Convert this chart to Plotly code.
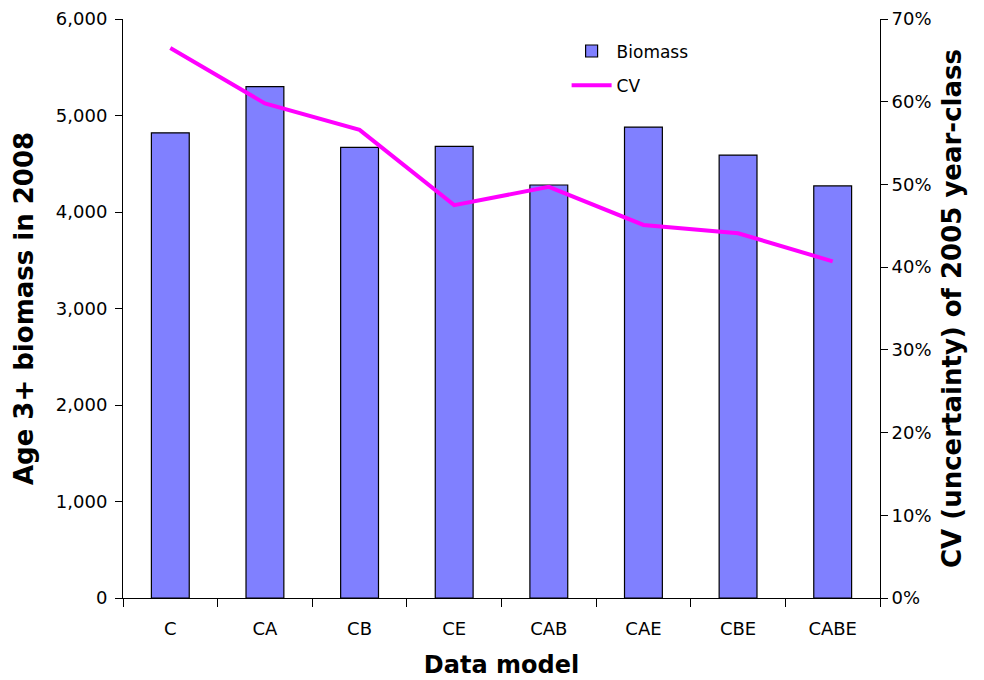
import plotly.graph_objects as go

MODELS = ["C", "CA", "CB", "CE", "CAB", "CAE", "CBE", "CABE"]
BIOMASS = [4820, 5300, 4670, 4680, 4280, 4880, 4590, 4270]
CV = [0.665, 0.598, 0.566, 0.475, 0.497, 0.451, 0.441, 0.407]

FONT = "DejaVu Sans, Verdana, sans-serif"
BAR_COLOR = "#8080FF"
LINE_COLOR = "#FF00FF"

fig = go.Figure()
fig.add_trace(go.Bar(
    x=MODELS, y=BIOMASS, name="Biomass", legendgroup="b",
    marker=dict(color=BAR_COLOR, line=dict(color="black", width=1.2)),
    yaxis="y",
))
fig.add_trace(go.Scatter(
    x=MODELS, y=CV, name="CV", mode="lines", legendgroup="cv",
    line=dict(color=LINE_COLOR, width=4),
    yaxis="y2",
))

# the page body has an 8px margin; size the figure so it fits the window
# and shift the margins so the plot area sits where the reference has it
fig.update_layout(
    width=976, height=672,
    paper_bgcolor="white", plot_bgcolor="white",
    font=dict(family=FONT, color="black", size=18),
    margin=dict(l=115, r=104, t=11, b=82),
    bargap=0.6,
    showlegend=True,
    legend=dict(
        x=0.586, y=0.975, xanchor="left", yanchor="top",
        bgcolor="rgba(0,0,0,0)", font=dict(size=17),
        itemwidth=40, tracegroupgap=9,
    ),
    xaxis=dict(
        type="category", tickson="boundaries",
        ticks="outside", ticklen=8, tickcolor="black",
        showline=True, linecolor="black", linewidth=1,
        showgrid=False, tickfont=dict(size=18), ticklabelstandoff=14,
        automargin=False,
        title=dict(text="<b>Data model</b>", font=dict(size=24), standoff=18),
    ),
    yaxis=dict(
        range=[0, 6000], dtick=1000, tickformat=",d",
        ticks="outside", ticklen=7, tickcolor="black",
        showline=True, linecolor="black", linewidth=1,
        showgrid=False, zeroline=False, tickfont=dict(size=18),
        ticklabelstandoff=4, ticklabeloverflow="allow", automargin=False,
        title=dict(text="<b>Age 3+ biomass in 2008</b>", font=dict(size=26), standoff=14),
    ),
    yaxis2=dict(
        overlaying="y", side="right",
        range=[0, 0.7], dtick=0.1, tickformat=".0%",
        ticks="outside", ticklen=7, tickcolor="black",
        showline=True, linecolor="black", linewidth=1,
        showgrid=False, zeroline=False, tickfont=dict(size=18),
        ticklabeloverflow="allow", automargin=False,
        title=dict(text="<b>CV (uncertainty) of 2005 year-class</b>", font=dict(size=26), standoff=12),
    ),
    yaxis3=dict(
        overlaying="y", side="right",
        range=[0, 0.7], dtick=0.1,
        ticks="inside", ticklen=7, tickcolor="black",
        showticklabels=False, showline=False,
        showgrid=False, zeroline=False, automargin=False,
    ),
)

fig.write_html("out.html")
